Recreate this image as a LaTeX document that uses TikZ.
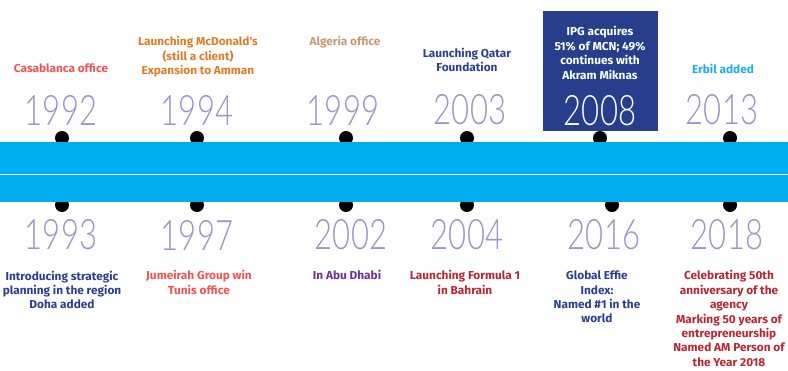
\documentclass[tikz,border=0pt]{standalone}
\usepackage{fontspec}
\setmainfont{Fira Sans}
\newfontfamily\yearfont[FakeStretch=0.74]{Lato Light}
\newfontfamily\labelfont[FakeStretch=1.03]{Fira Sans}
\definecolor{bandc}{RGB}{0,173,239}
\definecolor{yearc}{RGB}{150,150,200}
\definecolor{boxblue}{RGB}{38,62,140}
\definecolor{coralc}{RGB}{240,82,86}
\definecolor{orangec}{RGB}{222,124,38}
\definecolor{tanc}{RGB}{196,154,112}
\definecolor{navyc}{RGB}{44,62,140}
\definecolor{cyanc}{RGB}{30,172,232}
\definecolor{purplec}{RGB}{108,48,150}
\definecolor{darkredc}{RGB}{182,38,52}
\begin{document}
\begin{tikzpicture}[x=1pt,y=-1pt,
  yr/.style={font=\yearfont\fontsize{42}{42}\selectfont, text=yearc, inner sep=0pt},
  lbl/.style={font=\labelfont\bfseries\fontsize{11.5}{14.4}\selectfont, align=center, inner sep=0pt},
  dotc/.style={circle, fill=black, minimum size=14pt, inner sep=0pt}]
\useasboundingbox (0,0) rectangle (788,370);
% dots
\node[dotc] (t1) at (62,138) {};
\node[dotc] (t2) at (197,138) {};
\node[dotc] (t3) at (346,138) {};
\node[dotc] (t4) at (467,138) {};
\node[dotc] (t5) at (600,138) {};
\node[dotc] (t6) at (730,138) {};
\node[dotc] (b1) at (62,205) {};
\node[dotc] (b2) at (197,205) {};
\node[dotc] (b3) at (346,205) {};
\node[dotc] (b4) at (467,205) {};
\node[dotc] (b5) at (612,205) {};
\node[dotc] (b6) at (730,205) {};
% band
\fill[bandc] (0,142) rectangle (788,202);
\draw[white, line width=1pt] (0,174) -- (788,174);
% 2008 box
\node[fill=boxblue, minimum width=115pt, minimum height=120pt, inner sep=0pt] (box) at (600.5,71) {};
% top years
\node[yr] (y1992) at (61,110) {1992};
\node[yr] (y1994) at (197,110) {1994};
\node[yr] (y1999) at (343,110) {1999};
\node[yr] (y2003) at (470,110) {2003};
\node[yr, text=white] (y2008) at (600,111) {2008};
\node[yr] (y2013) at (722,110) {2013};
% bottom years
\node[yr] (y1993) at (61,235) {1993};
\node[yr] (y1997) at (197,235) {1997};
\node[yr] (y2002) at (351,235) {2002};
\node[yr] (y2004) at (467,235) {2004};
\node[yr] (y2016) at (604,235) {2016};
\node[yr] (y2018) at (727,235) {2018};
% top labels
\node[lbl, text=coralc] (l1992) at (61,68) {Casablanca office};
\node[lbl, text=orangec] (l1994) at (198,57) {Launching McDonald's\\(still a client)\\Expansion to Amman};
\node[lbl, text=tanc] (l1999) at (345,42) {Algeria office};
\node[lbl, text=navyc] (l2003) at (467,60) {Launching Qatar\\Foundation};
\node[lbl, text=white] (l2008) at (600,53) {IPG acquires\\51\% of MCN; 49\%\\continues with\\Akram Miknas};
\node[lbl, text=cyanc] (l2013) at (723,69) {Erbil added};
% bottom labels
\node[lbl, text=navyc] (l1993) at (62,290) {Introducing strategic\\planning in the region\\Doha added};
\node[lbl, text=coralc] (l1997) at (199,282.5) {Jumeirah Group win\\Tunis office};
\node[lbl, text=purplec] (l2002) at (347,275) {In Abu Dhabi};
\node[lbl, text=darkredc] (l2004) at (465,282.5) {Launching Formula 1\\in Bahrain};
\node[lbl, text=navyc] (l2016) at (597,297) {Global Effie\\Index:\\Named \#1 in the\\world};
\node[lbl, text=darkredc] (l2018) at (729,318.5) {Celebrating 50th\\anniversary of the\\agency\\Marking 50 years of\\entrepreneurship\\Named AM Person of\\the Year 2018};
\end{tikzpicture}
\end{document}
